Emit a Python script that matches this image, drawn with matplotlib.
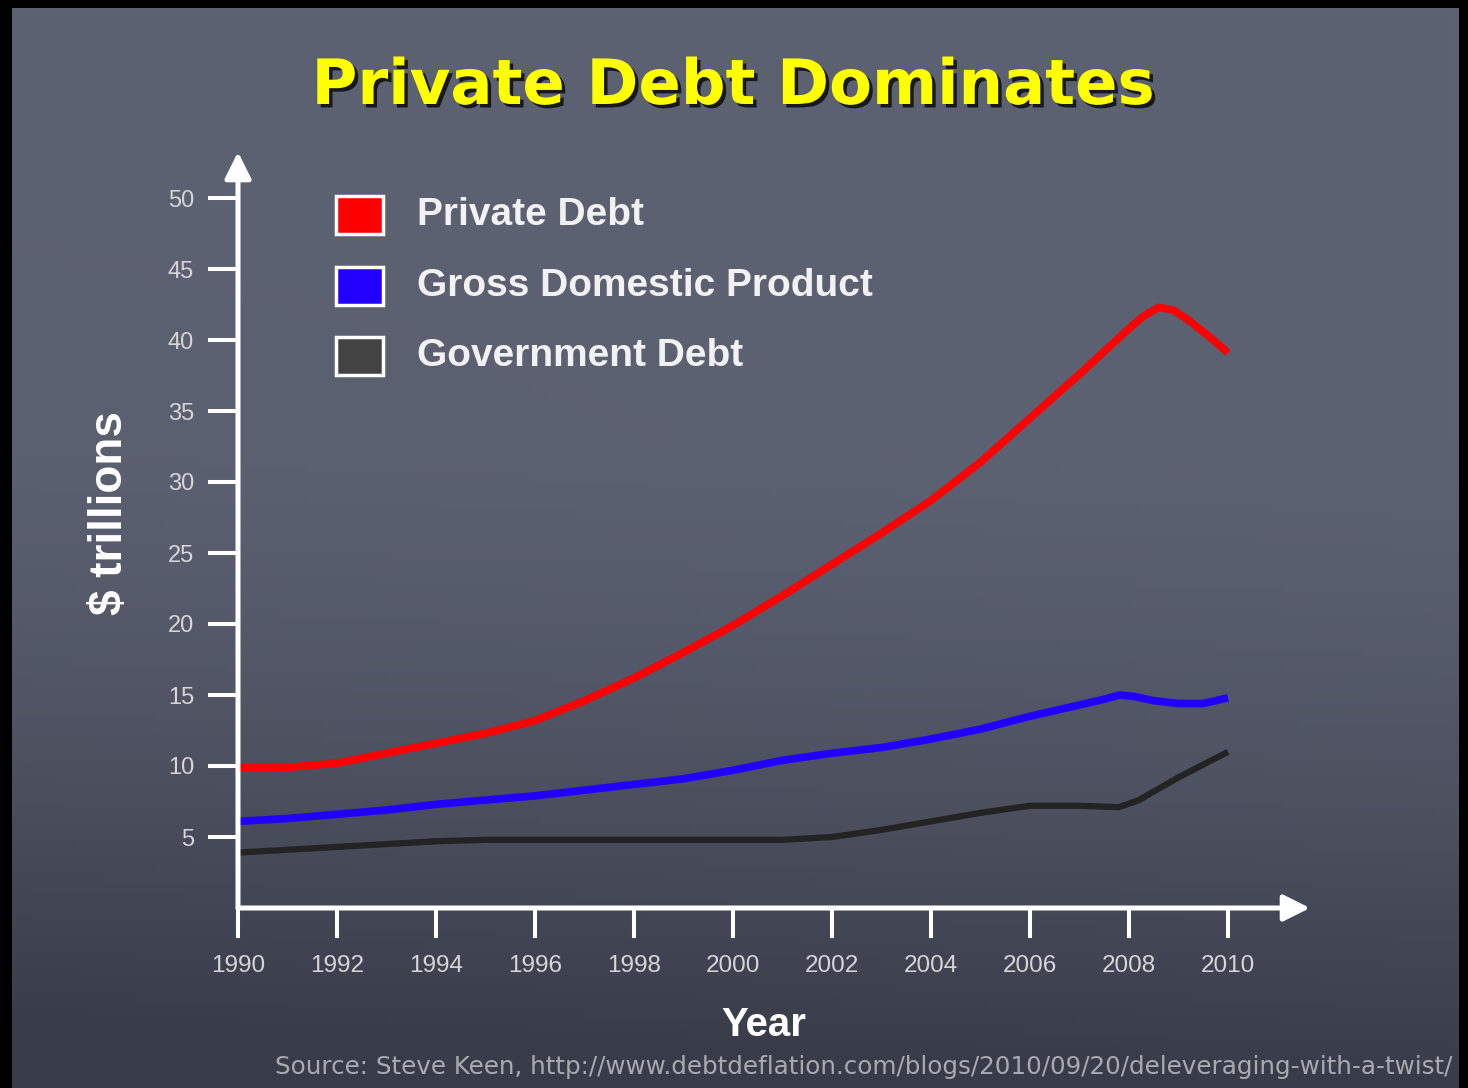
import numpy as np
import matplotlib
matplotlib.use('Agg')
import matplotlib.pyplot as plt
import matplotlib.patheffects as pe
from matplotlib.patches import Rectangle

plt.rcParams['font.family'] = ['Liberation Sans', 'DejaVu Sans']

# values, $ trillions
private_years = [1990, 1991, 1992, 1993, 1994, 1995, 1996, 1997, 1998, 1999, 2000,
                 2001, 2002, 2003, 2004, 2005, 2006, 2007, 2007.5, 2008, 2008.3,
                 2008.6, 2008.9, 2009.2, 2009.6, 2010]
private_debt = [9.9, 9.9, 10.2, 10.9, 11.6, 12.3, 13.2, 14.6, 16.2, 18.0, 19.9,
                22.0, 24.2, 26.4, 28.7, 31.4, 34.5, 37.6, 39.2, 40.8, 41.7,
                42.3, 42.1, 41.4, 40.3, 39.1]

gdp_years = [1990, 1991, 1992, 1993, 1994, 1995, 1996, 1997, 1998, 1999, 2000,
             2001, 2002, 2003, 2004, 2005, 2006, 2007, 2007.5, 2007.8, 2008.1,
             2008.5, 2009, 2009.5, 2010]
gdp = [6.1, 6.3, 6.6, 6.9, 7.3, 7.6, 7.9, 8.3, 8.7, 9.1, 9.7,
       10.4, 10.9, 11.3, 11.9, 12.6, 13.5, 14.3, 14.7, 15.0, 14.9,
       14.6, 14.4, 14.4, 14.8]

gov_years = [1990, 1991, 1992, 1993, 1994, 1995, 1996, 1997, 1998, 1999, 2000,
             2001, 2002, 2003, 2004, 2005, 2006, 2007, 2007.8, 2008.2, 2008.6,
             2009, 2009.5, 2010]
gov_debt = [3.9, 4.1, 4.3, 4.5, 4.7, 4.8, 4.8, 4.8, 4.8, 4.8, 4.8,
            4.8, 5.0, 5.5, 6.1, 6.7, 7.2, 7.2, 7.1, 7.6, 8.4,
            9.2, 10.1, 11.0]

xticks = list(range(1990, 2011, 2))
yticks = list(range(5, 51, 5))

legend_labels = ['Private Debt', 'Gross Domestic Product', 'Government Debt']
legend_colors = ['#ff0000', '#2200ff', '#444444']

W, H = 1468, 1088
fig = plt.figure(figsize=(W / 100, H / 100), dpi=100, facecolor='black')

# slate background, lighter at top
bg = fig.add_axes([12 / W, 0, (1459 - 12) / W, 1080 / H])
gy = np.linspace(0, 1, 200)[:, None]
gx = np.linspace(0, 1, 200)[None, :]
top = np.array([0x5d, 0x62, 0x73]) / 255
bot = np.array([0x38, 0x3b, 0x48]) / 255
t = np.clip((gy - 0.4) / 0.6, 0, 1) ** 1.4
t = np.clip(t + 0.12 * (1 - gx) * gy, 0, 1)
img = top[None, None, :] * (1 - t[..., None]) + bot[None, None, :] * t[..., None]
bg.imshow(img, aspect='auto', extent=[0, 1, 0, 1])
bg.axis('off')

# main axes: x from 1990 at px 238, y=0 at px 908
x0, x1 = 238, 1310
y0, y1 = 908, 152
ax = fig.add_axes([x0 / W, (H - y0) / H, (x1 - x0) / W, (y0 - y1) / H])
ax.patch.set_alpha(0)
ax.set_xlim(1990, 1990 + (x1 - x0) / 49.5)
ax.set_ylim(0, (y0 - y1) / 14.2)
for s in ax.spines.values():
    s.set_visible(False)

ax.plot(private_years, private_debt, color='#ff0000', lw=5.5,
        solid_capstyle='butt', solid_joinstyle='round')
ax.plot(gdp_years, gdp, color='#2200ff', lw=5.5,
        solid_capstyle='butt', solid_joinstyle='round')
ax.plot(gov_years, gov_debt, color='#232323', lw=4.5,
        solid_capstyle='butt', solid_joinstyle='round')

arrow = dict(arrowstyle='-|>,head_width=0.4,head_length=0.8', lw=3.6, color='white',
             shrinkA=0, shrinkB=0, mutation_scale=20)
ax.annotate('', xy=(1, 0), xytext=(0, 0), xycoords='axes fraction', arrowprops=arrow,
            annotation_clip=False)
ax.annotate('', xy=(0, 1), xytext=(0, 0), xycoords='axes fraction', arrowprops=arrow,
            annotation_clip=False)

ax.set_xticks(xticks)
ax.set_xticklabels([str(v) for v in xticks])
ax.set_yticks(yticks)
ax.set_yticklabels([str(v) for v in yticks])
ax.tick_params(axis='both', direction='out', length=21.6, width=2.9, color='white',
               labelcolor='#d6d6d8')
ax.tick_params(axis='x', pad=12, labelsize=17.5)
ax.tick_params(axis='y', pad=10, labelsize=17)

# title
fig.text(733 / W, 1 - 87 / H, 'Private Debt Dominates', ha='center', va='center',
         family='DejaVu Sans', fontweight='bold', fontsize=45, color='#ffff00',
         path_effects=[pe.withSimplePatchShadow(offset=(2.5, -2.5), shadow_rgbFace='black',
                                                alpha=0.75)])

# axis labels
fig.text(110 / W, 1 - 513 / H, '$ trillions', rotation=90, ha='center', va='center',
         fontweight='bold', fontsize=33, color='white')
fig.text(764 / W, 1 - 1025 / H, 'Year', ha='center', va='center',
         fontweight='bold', fontsize=29, color='white')

# legend
rows = [215, 286, 356]
for lab, col, yc in zip(legend_labels, legend_colors, rows):
    fig.patches.append(Rectangle((336 / W, 1 - (yc + 19) / H), 47 / W, 38 / H,
                                 transform=fig.transFigure, facecolor=col,
                                 edgecolor='white', lw=2.5))
    fig.text(417 / W, 1 - yc / H, lab, ha='left', va='center',
             fontweight='bold', fontsize=28, color='#f2f2f2')

fig.text(1452 / W, 1 - 1067 / H,
         'Source: Steve Keen, http://www.debtdeflation.com/blogs/2010/09/20/deleveraging-with-a-twist/',
         ha='right', va='center', family='DejaVu Sans', fontsize=17.7, color='#a8aab2')

fig.savefig('out.png', dpi=100, facecolor='black')
